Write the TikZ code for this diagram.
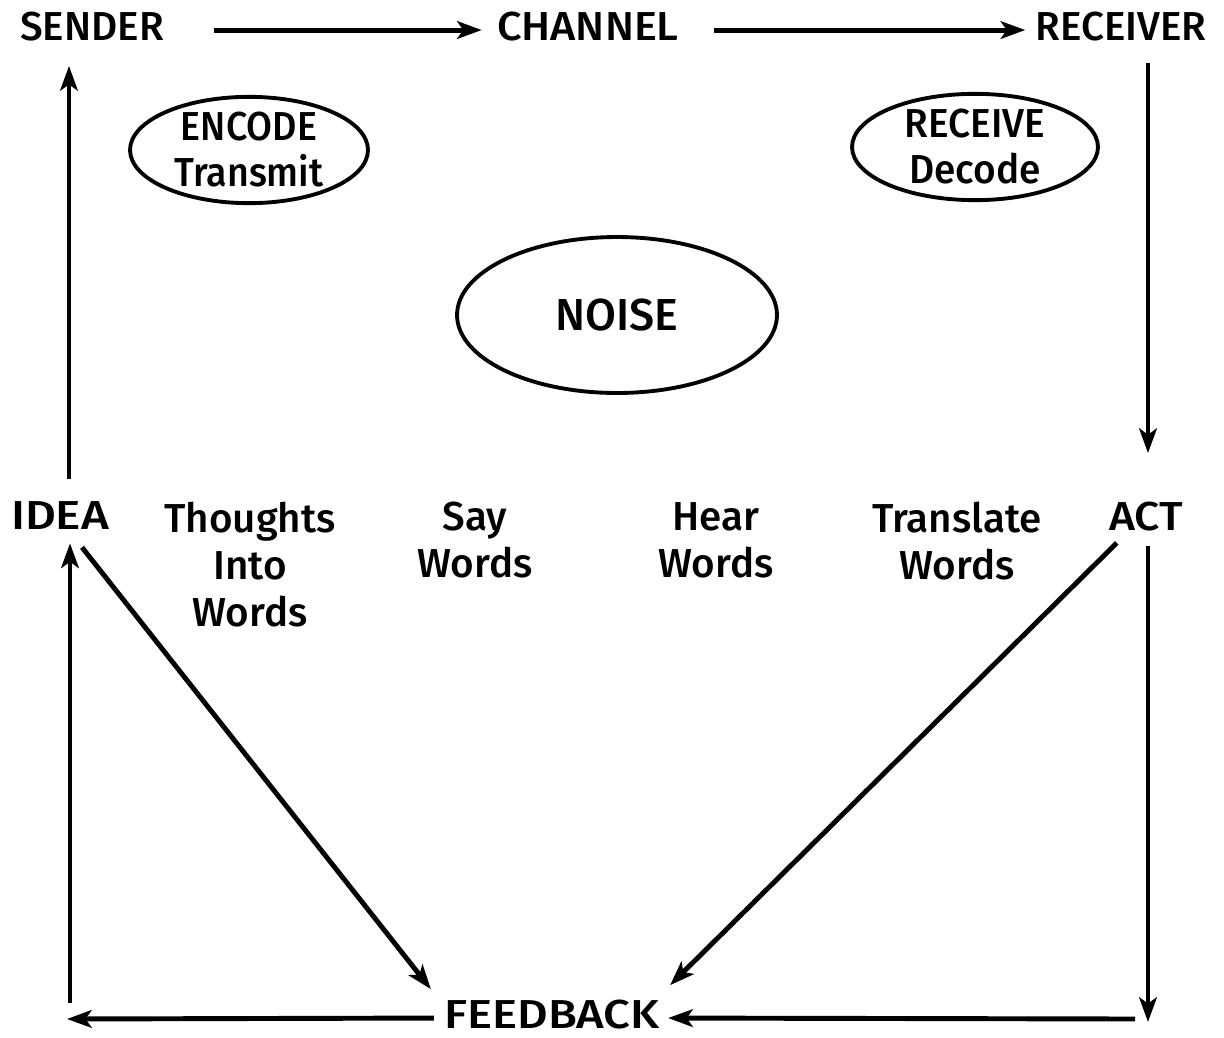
\documentclass[tikz,border=0pt]{standalone}
\usepackage{fontspec}
\setmainfont{Fira Sans}[UprightFont={* Medium}]
\usetikzlibrary{arrows.meta,shapes.geometric,calc}
\newcommand{\wider}[2]{\scalebox{#1}[1]{#2}}
\begin{document}
\begin{tikzpicture}[x=0.02cm,y=-0.02cm,
  lbl/.style={inner sep=0pt,font=\fontsize{23}{26.8}\selectfont,align=center},
  bubble/.style={draw,ellipse,line width=2.2pt,inner sep=0pt,font=\fontsize{23}{26.2}\selectfont,align=center},
  conn/.style={line width=2.8pt},
  arr/.style={conn,-{Stealth[length=14pt,width=10pt,inset=3.5pt]}}]
\useasboundingbox (0,0) rectangle (1224,1038);
% top row
\node[lbl,anchor=base] (sender) at (92,40) {SENDER};
\node[lbl,anchor=base] (channel) at (588,40) {\wider{1.07}{CHANNEL}};
\node[lbl,anchor=base] (receiver) at (1121,40) {RECEIVER};
% ellipses
\node[bubble,minimum width=4.76cm,minimum height=1.92cm] (encode) at (249,150) {\wider{0.93}{ENCODE}\\\wider{0.93}{Transmit}};
\node[bubble,minimum width=4.92cm,minimum height=2.0cm] (receive) at (975,147) {\wider{0.96}{RECEIVE}\\\wider{0.96}{Decode}};
\node[bubble,minimum width=6.4cm,minimum height=3.12cm,font=\fontsize{25.5}{28}\selectfont] (noise) at (617,315) {NOISE};
% middle row
\node[lbl,anchor=base] (idea) at (60,529) {\wider{1.18}{IDEA}};
\node[lbl,anchor=north] (thoughts) at (250,502) {Thoughts\\Into\\Words};
\node[lbl,anchor=north] (say) at (475,502) {Say\\Words};
\node[lbl,anchor=north] (hear) at (716,502) {Hear\\Words};
\node[lbl,anchor=north] (translate) at (957,502) {Translate\\Words};
\node[lbl,anchor=base] (act) at (1146,530) {\wider{1.1}{ACT}};
% bottom
\node[lbl,anchor=base] (feedback) at (552,1028) {\wider{1.17}{FEEDBACK}};
% free ends
\coordinate (brcorner) at (1135,1019);
\coordinate (blcorner) at (67,1019);
\coordinate (blbottom) at (70,1003);
\coordinate (actbottom) at (1148,1022);
% connectors
\draw[arr] ($(sender.east)+(50,4)$) -- ($(channel.west)+(-15,4)$);
\draw[arr] ($(channel.east)+(35,4)$) -- ($(receiver.west)+(-10,4)$);
\draw[arr] ($(receiver.south -| act.north)+(2,22)$) -- ($(act.north)+(2,-48)$);
\draw[arr] ($(idea.north)+(9,-22)$) -- ($(sender.south)+(-23,25)$);
\draw[arr] ($(idea.south)+(22,18)$) -- ($(feedback.north west)+(-13,-10)$);
\draw[arr] ($(act.south west)+(8,12)$) -- ($(feedback.north east)+(10,-14)$);
\draw[arr] ($(act.south)+(2,15)$) -- (actbottom);
\draw[arr] (brcorner) -- ($(feedback.east)+(8,4)$);
\draw[arr] ($(feedback.west)+(-10,4)$) -- (blcorner);
\draw[arr] (blbottom) -- ($(idea.south)+(10,14)$);
\end{tikzpicture}
\end{document}
